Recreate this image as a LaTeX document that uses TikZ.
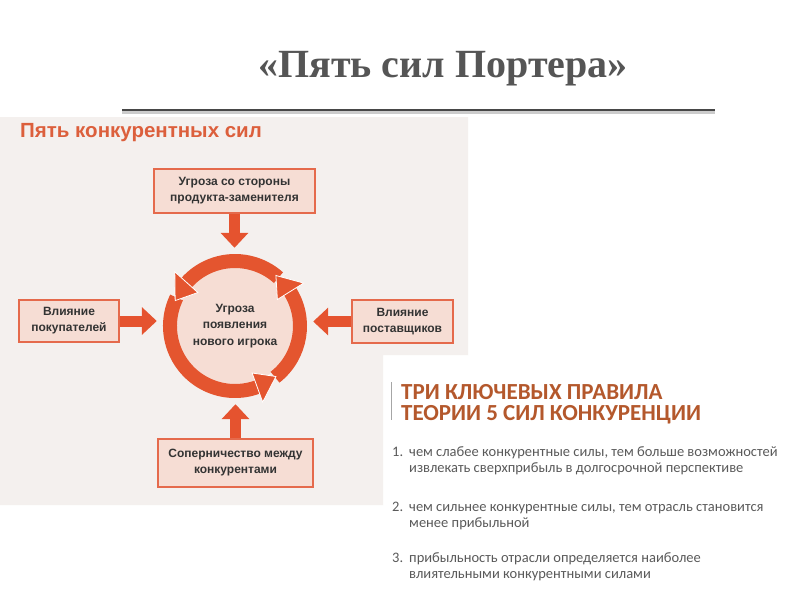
\documentclass[tikz,border=0pt]{standalone}
\usepackage{fontspec}
\setmainfont{Liberation Sans}
\newfontfamily\titlefont{Liberation Serif}
\newfontfamily\calfont{Carlito}
\usetikzlibrary{arrows.meta,calc}
\definecolor{ringc}{HTML}{E4552F}
\definecolor{arrc}{HTML}{E5532F}
\definecolor{boxfill}{HTML}{F6DDD4}
\definecolor{boxline}{HTML}{E56A4C}
\definecolor{boxtext}{HTML}{333333}
\definecolor{photo}{HTML}{F4F0EE}
\definecolor{headc}{HTML}{DC5F3C}
\definecolor{rulehead}{HTML}{B4582C}
\definecolor{ruletext}{HTML}{5A5A5A}
\definecolor{titlec}{HTML}{555555}
\begin{document}
\begin{tikzpicture}[x=1pt,y=-1pt,
  forcebox/.style={draw=boxline, line width=1.4pt, fill=boxfill, text=boxtext,
    font=\bfseries\fontsize{12}{16}\selectfont, align=center, inner sep=0pt},
  blockarrow/.style={draw=arrc, line width=11pt, -{Triangle[width=27pt,length=15pt]}},
  ringarc/.style={draw=ringc, line width=14pt},
  ringhead/.style={fill=ringc, draw=white, line width=0.8pt},
  ruleitem/.style={text=ruletext, font=\calfont\fontsize{14.5}{16}\selectfont, anchor=base west, inner sep=0pt},
  rulehd/.style={text=rulehead, font=\calfont\bfseries\fontsize{23}{23}\selectfont, anchor=base west, inner sep=0pt}]
\useasboundingbox (0,0) rectangle (800,600);
\fill[white] (0,0) rectangle (800,600);
% photo background
\fill[photo] (0,117) -- (468,117) -- (468,355) -- (383,355) -- (383,505) -- (0,505) -- cycle;
% title and rule
\node[text=titlec, font=\titlefont\bfseries\fontsize{40}{40}\selectfont, inner sep=0pt] (title) at (443,69) {«Пять сил Портера»};
\coordinate (ruleL) at (122,110);
\coordinate (ruleR) at (715,110);
\draw[line width=3pt, color=black!20] ($(ruleL)+(0,2.5)$) -- ($(ruleR)+(0,2.5)$);
\draw[line width=2.6pt, color=black!72] (ruleL) -- (ruleR);
% header
\node[text=headc, font=\bfseries\fontsize{20.5}{20.5}\selectfont, anchor=base west, inner sep=0pt] (hdr) at (20,137) {Пять конкурентных сил};
% boxes
\node[forcebox, minimum width=161pt, minimum height=44pt] (top) at (234.5,191) {Угроза со стороны\\продукта-заменителя};
\node[forcebox, minimum width=100pt, minimum height=42pt] (left) at (69,321) {Влияние\\покупателей};
\node[forcebox, minimum width=101pt, minimum height=43pt] (right) at (402.5,321.5) {Влияние\\поставщиков};
\node[forcebox, minimum width=155pt, minimum height=48pt] (bottom) at (235.5,463) {Соперничество между\\конкурентами};
% core
\node[circle, fill=boxfill, minimum size=118pt, inner sep=0pt, text=boxtext,
  font=\bfseries\fontsize{12}{16.5}\selectfont, align=center] (core) at (235,326) {Угроза\\появления\\нового игрока};
\node[circle, minimum size=156pt, inner sep=0pt] (zone) at (235,326) {};
% ring arcs
\draw[ringarc] (core.center) ++(-52:65pt) arc[start angle=-52, end angle=33, radius=65pt];
\draw[ringarc] (core.center) ++(48:65pt) arc[start angle=48, end angle=139, radius=65pt];
\draw[ringarc] (core.center) ++(154:65pt) arc[start angle=154, end angle=292, radius=65pt];
% ring heads
\filldraw[ringhead] ([shift={(core.center)}]32:50pt) -- ([shift={(core.center)}]32:81pt) -- ([shift={(core.center)}]51:65pt) -- cycle;
\filldraw[ringhead] ([shift={(core.center)}]138:50pt) -- ([shift={(core.center)}]138:81pt) -- ([shift={(core.center)}]157:65pt) -- cycle;
\filldraw[ringhead] ([shift={(core.center)}]290:50pt) -- ([shift={(core.center)}]290:81pt) -- ([shift={(core.center)}]309:65pt) -- cycle;
% block arrows
\draw[blockarrow] (top.south) -- (top.south |- zone.north);
\draw[blockarrow] (left.east) -- (left.east -| zone.west);
\draw[blockarrow] (right.west) -- (right.west -| zone.east);
\draw[blockarrow] (bottom.north) -- (bottom.north |- zone.south);
% rules panel
\coordinate (barT) at (391,382);
\coordinate (barB) at (391,420);
\draw[line width=0.8pt, color=black!35] (barT) -- (barB);
\node[rulehd] (rh1) at (401,399) {ТРИ КЛЮЧЕВЫХ ПРАВИЛА};
\node[rulehd] (rh2) at (401,420) {ТЕОРИИ 5 СИЛ КОНКУРЕНЦИИ};
\node[ruleitem] (n1) at (392,456) {1.};
\node[ruleitem] (t1a) at (409,456) {чем слабее конкурентные силы, тем больше возможностей};
\node[ruleitem] (t1b) at (409,472) {извлекать сверхприбыль в долгосрочной перспективе};
\node[ruleitem] (n2) at (392,511) {2.};
\node[ruleitem] (t2a) at (409,511) {чем сильнее конкурентные силы, тем отрасль становится};
\node[ruleitem] (t2b) at (409,527) {менее прибыльной};
\node[ruleitem] (n3) at (392,562) {3.};
\node[ruleitem] (t3a) at (409,562) {прибыльность отрасли определяется наиболее};
\node[ruleitem] (t3b) at (409,578) {влиятельными конкурентными силами};
\end{tikzpicture}
\end{document}
